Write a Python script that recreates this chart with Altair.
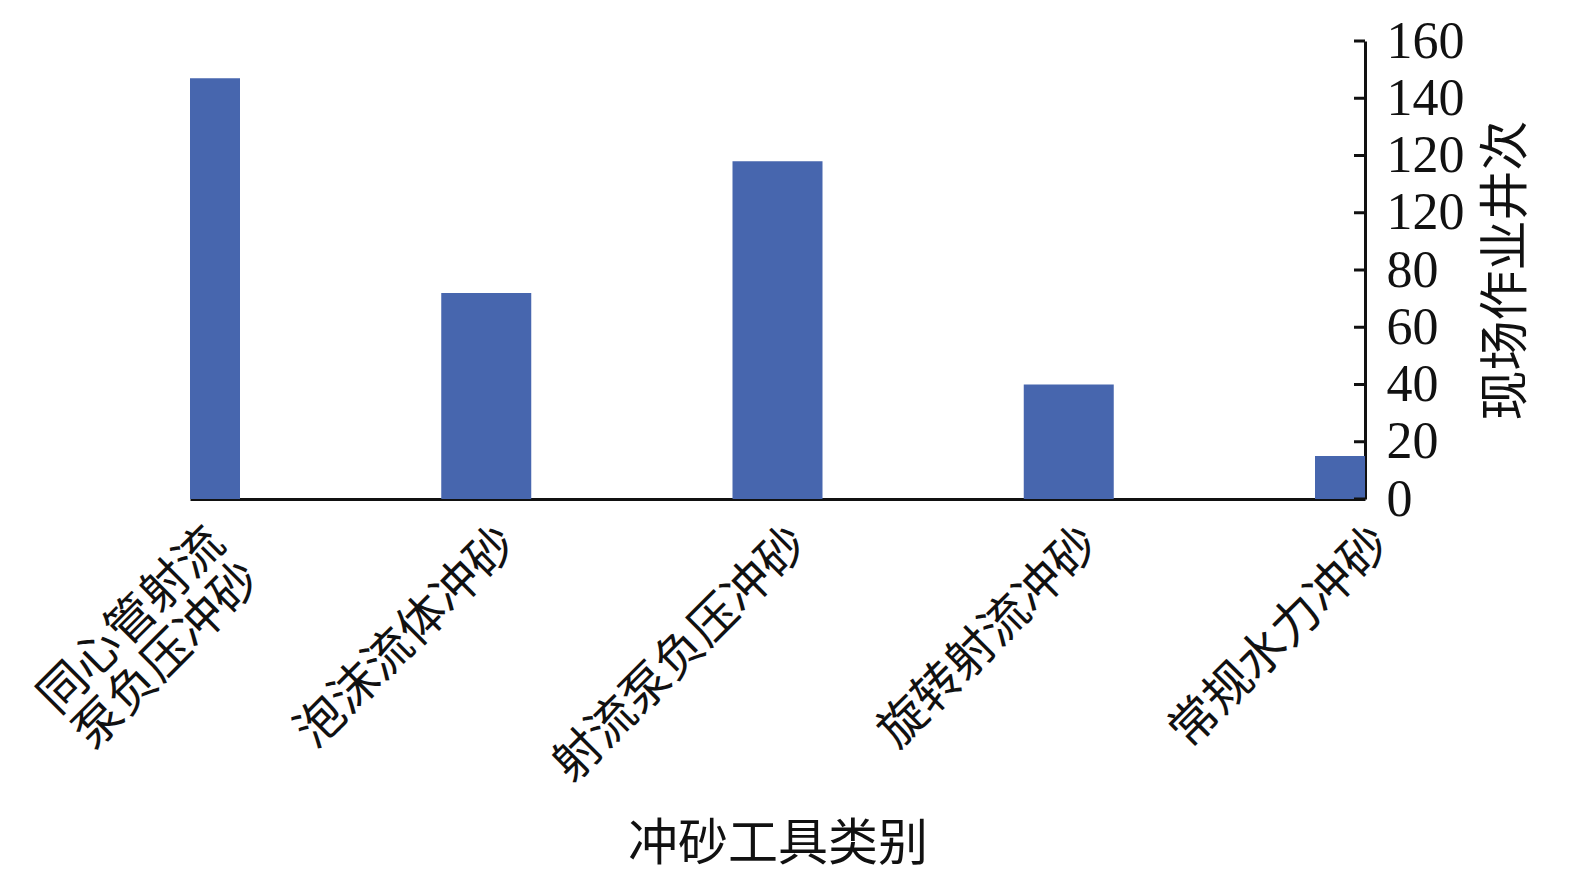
import json
import altair as alt
import pandas as pd

categories = [["同心管射流", "泵负压冲砂"], "泡沫流体冲砂", "射流泵负压冲砂", "旋转射流冲砂", "常规水力冲砂"]
values = [147, 72, 118, 40, 15]
y_ticks = [0, 20, 40, 60, 80, 100, 120, 140, 160]
y_tick_labels = ["0", "20", "40", "60", "80", "120", "120", "140", "160"]

df = pd.DataFrame({"idx": list(range(len(values))), "count": values})
ticks_df = pd.DataFrame({"t": y_ticks})

FONT = "Liberation Serif, Noto Sans CJK SC"
W, H = 1175, 458
cat_js = json.dumps(categories, ensure_ascii=False)
ylab_js = json.dumps(y_tick_labels, ensure_ascii=False)

x_enc = alt.X(
    "idx:Q",
    scale=alt.Scale(domain=[0, len(values) - 1], nice=False, zero=False),
    axis=alt.Axis(
        values=list(range(len(values))),
        labelExpr=f"{cat_js}[datum.value]",
        labelAngle=-45,
        labelAlign="right",
        labelBaseline="top",
        labelOffset=5,
        labelPadding=20,
        labelFont=FONT,
        labelFontSize=48,
        labelLineHeight=50,
        labelColor="#111",
        labelOverlap=False,
        labelBound=False,
        labelFlush=False,
        labelLimit=0,
        ticks=False,
        grid=False,
        domainColor="#111",
        domainWidth=3,
        title="冲砂工具类别",
        titleFont=FONT,
        titleFontSize=50,
        titleFontWeight="normal",
        titleColor="#111",
        titleBaseline="middle",
        titleY=345,
    ),
)

y_enc = alt.Y(
    "count:Q",
    scale=alt.Scale(domain=[0, 160], nice=False),
    axis=alt.Axis(
        orient="right",
        values=y_ticks,
        labelExpr=f"{ylab_js}[indexof({json.dumps(y_ticks)}, datum.value)]",
        ticks=False,
        grid=False,
        domainColor="#111",
        domainWidth=3,
        labelFont=FONT,
        labelFontSize=52,
        labelColor="#111",
        labelPadding=21,
        labelBaseline="middle",
        labelFlush=False,
        labelLimit=0,
        title="现场作业井次",
        titleFont=FONT,
        titleFontSize=50,
        titleFontWeight="normal",
        titleColor="#111",
        titleAngle=270,
        titleBaseline="middle",
        titleX=141,
        titleY=H / 2,
    ),
)

bars = alt.Chart(df).mark_bar(color="#4766AE", size=90, clip=True).encode(x=x_enc, y=y_enc)

tick_marks = alt.Chart(ticks_df).mark_rule(color="#111", strokeWidth=3).encode(
    y=alt.Y("t:Q", scale=alt.Scale(domain=[0, 160], nice=False)),
    x=alt.value(W - 11),
    x2=alt.value(W),
)

chart = (
    alt.layer(bars, tick_marks)
    .properties(
        width=W,
        height=H,
        autosize=alt.AutoSizeParams(type="none"),
        padding={"left": 182, "top": 33, "right": 200, "bottom": 370},
        background="white",
    )
    .configure_view(stroke=None)
)

chart.save("out.html", embed_options={"renderer": "svg", "actions": False})
